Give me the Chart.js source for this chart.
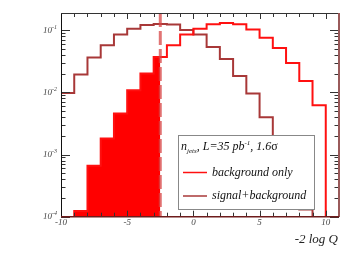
<!DOCTYPE html>
<html><head><meta charset="utf-8">
<script src="https://cdn.jsdelivr.net/npm/chart.js@4"></script>
<style>html,body{margin:0;padding:0;background:#fff}#wrap{width:357px;height:255px}</style>
</head><body><div id="wrap"><canvas id="c" width="357" height="255"></canvas></div>
<script>
const binLowEdges = [-10,-9,-8,-7,-6,-5,-4,-3,-2,-1,0,1,2,3,4,5,6,7,8,9];
const backgroundOnly = [0,1.24e-4,6.6e-4,1.82e-3,4.6e-3,0.0108,0.0201,0.0373,0.0574,0.0856,0.106,0.125,0.131,0.125,0.103,0.0757,0.0518,0.0298,0.0153,0.0062];
const signalPlusBackground = [0.0098,0.0194,0.0364,0.0574,0.0853,0.106,0.1216,0.126,0.1236,0.101,0.0853,0.054,0.0346,0.0184,0.0096,0.0040,0.00128,0.00041,0.00013,0];
const observedValue = -2.5;
const xTickValues = [-10,-5,0,5,10];
const xTickLabels = ['-10','-5','0','5','10'];
const yTickExponents = [-1,-2,-3,-4];
const legendLabels = ['background only','signal+background'];
const axisTitle = '-2 log Q';

const BIN_W = 1, FLOOR = 1e-7;
const RED = '#ff1010', BROWN = '#a83838';

function histPoints(vals){
  const first = vals.findIndex(v=>v>0);
  let last = vals.length-1; while(last>0 && !(vals[last]>0)) last--;
  const pts=[{x:binLowEdges[first],y:FLOOR}];
  for(let i=first;i<=last;i++) pts.push({x:binLowEdges[i]+BIN_W,y:vals[i]>0?vals[i]:FLOOR});
  pts.push({x:binLowEdges[last]+BIN_W,y:FLOOR});
  return pts;
}
function fillPoints(vals, limit){
  const first = vals.findIndex(v=>v>0);
  const pts=[{x:binLowEdges[first],y:vals[first]}];
  for(let i=first;i<vals.length;i++){
    if(binLowEdges[i]>=limit) break;
    pts.push({x:Math.min(binLowEdges[i]+BIN_W,limit),y:vals[i]});
  }
  return pts;
}

const SERIF = '"Liberation Serif","DejaVu Serif",serif';

const decor = {
  id:'decor',
  afterDatasetsDraw(chart){
    const {ctx, chartArea:a, scales:{x,y}} = chart;
    const xo = x.getPixelForValue(observedValue);
    ctx.save();
    ctx.strokeStyle='rgba(215,70,70,0.75)'; ctx.lineWidth=3; ctx.setLineDash([14,4]);
    ctx.beginPath(); ctx.moveTo(xo,a.top); ctx.lineTo(xo,a.bottom); ctx.stroke();
    ctx.restore();
  },
  afterDraw(chart){
    const {ctx, chartArea:a, scales:{x,y}} = chart;
    ctx.save();
    ctx.strokeStyle='#333'; ctx.lineWidth=1;
    ctx.beginPath();
    for(let v=-10; v<=11; v++){
      const px = Math.round(x.getPixelForValue(v))+0.5;
      const L = (v%5===0)?6:4;
      ctx.moveTo(px,a.bottom); ctx.lineTo(px,a.bottom-L);
      ctx.moveTo(px,a.top); ctx.lineTo(px,a.top+L);
    }
    for(let e=-4; e<=-1; e++){
      for(let m=1;m<=9;m++){
        const v=m*Math.pow(10,e);
        if(v>y.max*1.0001) continue;
        const py = Math.round(y.getPixelForValue(v))+0.5;
        const L = m===1?9:4.5;
        ctx.moveTo(a.left,py); ctx.lineTo(a.left+L,py);
        ctx.moveTo(a.right,py); ctx.lineTo(a.right-L,py);
      }
    }
    ctx.stroke();
    ctx.lineWidth=1; ctx.strokeStyle='#111';
    ctx.beginPath(); ctx.moveTo(a.left+0.5,a.top); ctx.lineTo(a.left+0.5,a.bottom); ctx.stroke();
    ctx.strokeStyle='#333';
    ctx.beginPath(); ctx.moveTo(a.left,a.top+0.5); ctx.lineTo(a.right,a.top+0.5); ctx.stroke();
    ctx.lineWidth=2; ctx.strokeStyle='#9a5a5a';
    ctx.beginPath(); ctx.moveTo(a.right,a.top); ctx.lineTo(a.right,a.bottom); ctx.stroke();
    ctx.lineWidth=1.5; ctx.strokeStyle='#6e1c1c';
    ctx.beginPath(); ctx.moveTo(a.left,a.bottom); ctx.lineTo(a.right,a.bottom); ctx.stroke();

    ctx.fillStyle='#444'; ctx.font='italic 9px '+SERIF; ctx.textAlign='center'; ctx.textBaseline='middle';
    xTickValues.forEach((v,i)=>ctx.fillText(xTickLabels[i], x.getPixelForValue(v), a.bottom+5.5));
    yTickExponents.forEach(e=>{
      const py = y.getPixelForValue(Math.pow(10,e));
      const sup = String(e);
      ctx.font='italic 6px '+SERIF; const ws = ctx.measureText(sup).width;
      ctx.textAlign='right'; ctx.textBaseline='middle';
      ctx.fillText(sup, a.left-4, py-3);
      ctx.font='italic 9px '+SERIF;
      ctx.fillText('10', a.left-4-ws, py);
    });
    ctx.fillStyle='#222'; ctx.font='italic 13px '+SERIF; ctx.textAlign='right'; ctx.textBaseline='middle';
    ctx.fillText(axisTitle, a.right-1, 240);

    const bx=178.5, by=135.5, bw=136, bh=74;
    ctx.fillStyle='#fff'; ctx.fillRect(bx,by,bw,bh);
    ctx.strokeStyle='#888'; ctx.lineWidth=1; ctx.strokeRect(bx,by,bw,bh);
    ctx.fillStyle='#111'; ctx.textAlign='left'; ctx.textBaseline='alphabetic';
    let tx=181, base=149.5;
    const seg=(t,f,dy)=>{ctx.font=f; ctx.fillText(t,tx,base+dy); tx+=ctx.measureText(t).width;};
    seg('n','italic 12px '+SERIF,0);
    seg('jets','italic 7px '+SERIF,3);
    seg(', L=35 pb','italic 12px '+SERIF,0);
    seg('-1','italic 7px '+SERIF,-5);
    seg(', 1.6','italic 12px '+SERIF,0);
    seg('σ','12px '+SERIF,0);
    const rows=[{c:RED,y:172.5},{c:BROWN,y:196}];
    rows.forEach((r,i)=>{
      ctx.strokeStyle=r.c; ctx.lineWidth=1.5;
      ctx.beginPath(); ctx.moveTo(183,r.y); ctx.lineTo(207,r.y); ctx.stroke();
      ctx.fillStyle='#111'; ctx.font='italic 12px '+SERIF; ctx.textBaseline='middle';
      ctx.fillText(legendLabels[i], 212, r.y);
    });
    ctx.restore();
  }
};

new Chart(document.getElementById('c'),{
  type:'line',
  data:{datasets:[
    {label:'fill', data:fillPoints(backgroundOnly, observedValue), stepped:'after', borderWidth:0, pointRadius:0, fill:'start', backgroundColor:'#ff0000', order:3},
    {label:legendLabels[1], data:histPoints(signalPlusBackground), stepped:'after', borderColor:BROWN, borderWidth:2, pointRadius:0, fill:false, order:2},
    {label:legendLabels[0], data:histPoints(backgroundOnly), stepped:'after', borderColor:RED, borderWidth:2, pointRadius:0, fill:false, order:1}
  ]},
  options:{
    responsive:false, animation:false, events:[],
    layout:{padding:{left:61,right:18,top:13,bottom:38.3}},
    plugins:{legend:{display:false},tooltip:{enabled:false}},
    scales:{
      x:{type:'linear',min:-10,max:11,display:false},
      y:{type:'logarithmic',min:1e-4,max:0.19,display:false}
    }
  },
  plugins:[decor]
});
</script></body></html>
